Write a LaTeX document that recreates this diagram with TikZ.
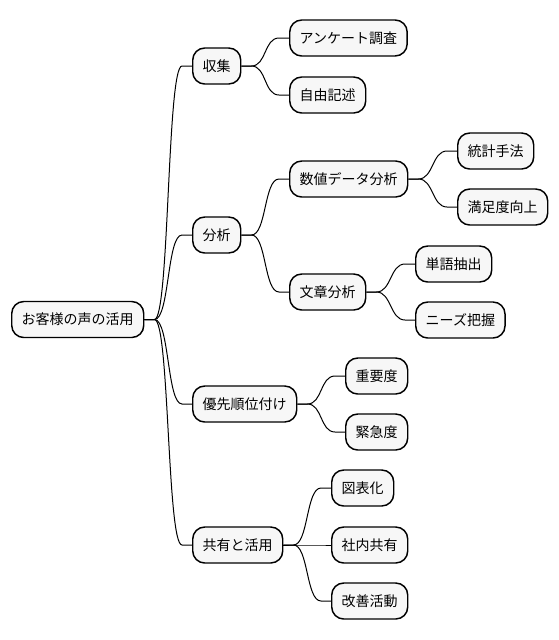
\documentclass[tikz,border=0pt]{standalone}
\usepackage{fontspec}
\setmainfont{Noto Sans CJK JP}
\usetikzlibrary{positioning}

\begin{document}
\begin{tikzpicture}[x=0.75pt,y=-0.75pt]
\tikzstyle topic=[draw=black, fill=gray!6, line width=1.1pt, rounded corners=9pt,
  anchor=west, minimum height=27pt, inner xsep=7.5pt, inner ysep=0pt,
  font=\fontsize{10.5pt}{12pt}\selectfont]
\tikzstyle edge=[line width=0.75pt, black]
\newcommand\branch[2]{\draw[edge] (#1.east) -- ++(10,0) .. controls +(15,0) and +(-15,0) .. ([xshift=-7.5pt]#2.west) -- (#2.west);}

\useasboundingbox (0,0) rectangle (558,640);

% root and main branches
\node[topic] (voice) at (11,319.5) {お客様の声の活用};
\node[topic] (collect) at (192,66) {収集};
\node[topic] (analyse) at (192,235) {分析};
\node[topic] (priority) at (192,404) {優先順位付け};
\node[topic] (share) at (192,545) {共有と活用};

% leaves
\node[topic] (survey) at (289,38) {アンケート調査};
\node[topic] (freetext) at (289,95) {自由記述};
\node[topic] (numeric) at (289,179) {数値データ分析};
\node[topic] (textan) at (289,292) {文章分析};
\node[topic] (stats) at (457,151) {統計手法};
\node[topic] (satisf) at (457,207) {満足度向上};
\node[topic] (words) at (415,264) {単語抽出};
\node[topic] (needs) at (415,320) {ニーズ把握};
\node[topic] (importance) at (345,376) {重要度};
\node[topic] (urgency) at (345,432) {緊急度};
\node[topic] (chart) at (331,488) {図表化};
\node[topic] (inhouse) at (331,545) {社内共有};
\node[topic] (improve) at (331,601) {改善活動};

\foreach \c in {collect,analyse,priority,share} {\branch{voice}{\c}}
\foreach \c in {survey,freetext} {\branch{collect}{\c}}
\foreach \c in {numeric,textan} {\branch{analyse}{\c}}
\foreach \c in {stats,satisf} {\branch{numeric}{\c}}
\foreach \c in {words,needs} {\branch{textan}{\c}}
\foreach \c in {importance,urgency} {\branch{priority}{\c}}
\foreach \c in {chart,inhouse,improve} {\branch{share}{\c}}
\end{tikzpicture}
\end{document}
